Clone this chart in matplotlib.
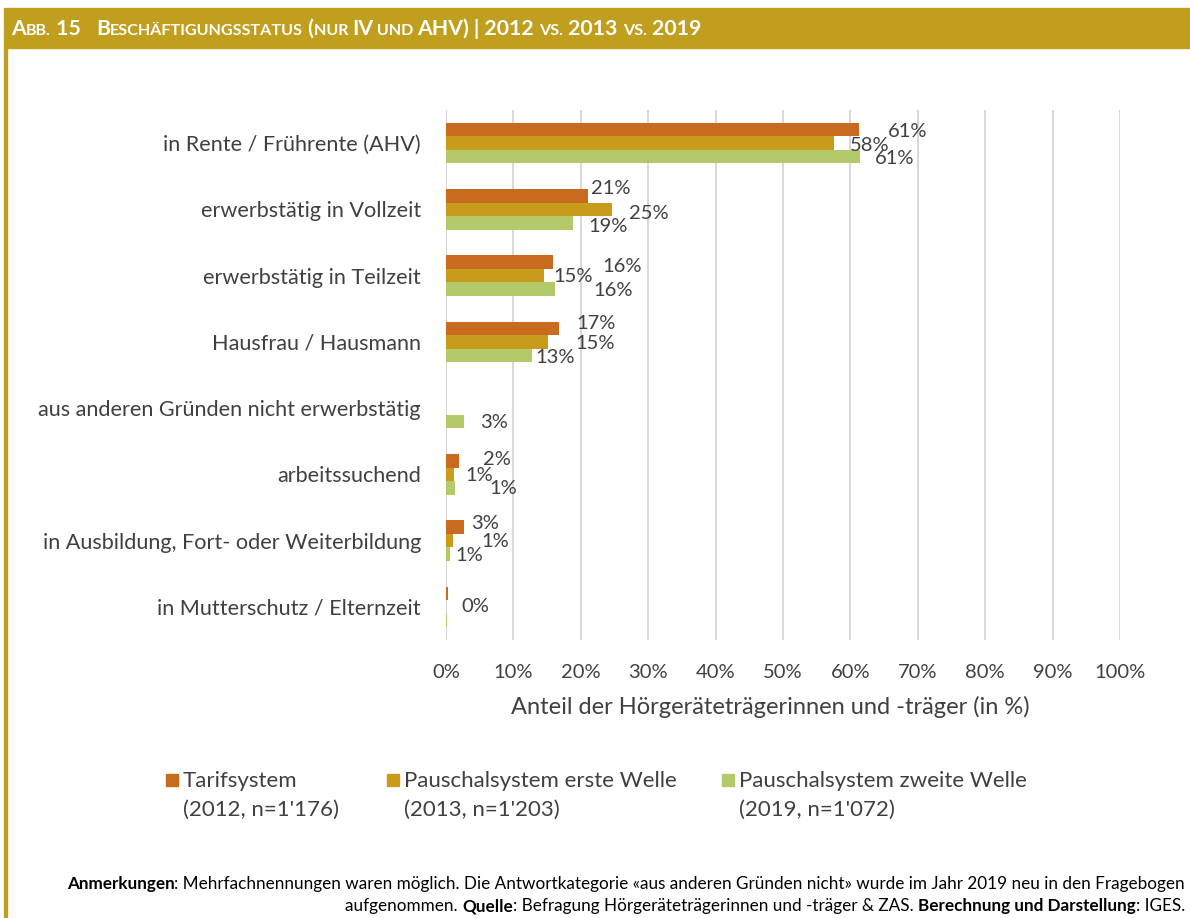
import matplotlib
matplotlib.use("Agg")
import matplotlib.pyplot as plt
import numpy as np
from matplotlib.patches import Rectangle

plt.rcParams['font.family'] = ['Lato', 'DejaVu Sans']

categories = ['in Rente / Frührente (AHV)', 'erwerbstätig in Vollzeit',
              'erwerbstätig in Teilzeit', 'Hausfrau / Hausmann',
              'aus anderen Gründen nicht erwerbstätig', 'arbeitssuchend',
              'in Ausbildung, Fort- oder Weiterbildung',
              'in Mutterschutz / Elternzeit']
tarif = [61.3, 21.1, 15.9, 16.8, np.nan, 1.9, 2.6, 0.25]
erste = [57.5, 24.7, 14.6, 15.1, np.nan, 1.2, 1.0, 0.0]
zweite = [61.4, 18.8, 16.2, 12.8, 2.7, 1.3, 0.6, 0.15]
# which values carry a label (as in the original)
show_t = [1, 1, 1, 1, 0, 1, 1, 0]
show_e = [1, 1, 1, 1, 0, 1, 1, 1]
show_z = [1, 1, 1, 1, 1, 1, 1, 0]
series_names = ['Tarifsystem\n(2012, n=1\'176)',
                'Pauschalsystem erste Welle\n(2013, n=1\'203)',
                'Pauschalsystem zweite Welle\n(2019, n=1\'072)']
xticks = np.arange(0, 101, 10)

colors = ['#C96B1F', '#C89B1A', '#B3C96A']
gold = '#C09F1E'
txt = '#404040'

# label offsets in pixels (dx from bar end, dy up) to mimic the manual placement
offs_t = [(29, -2), (3, 7), (49, -4), (17, 4.5), (0, 0), (24, 1.5), (8, 3.5), (0, 0)]
offs_e = [(16, -2), (17, -4), (9, -1), (28, -1.5), (0, 0), (11, -1), (29, -1), (15, 0)]
offs_z = [(15, -2), (16, -4), (38, -1.5), (3, -2.5), (16, -1), (35, -1), (5, -1.5), (0, 0)]

W, H = 1190, 918
fig = plt.figure(figsize=(W / 100, H / 100), dpi=100)
ax = fig.add_axes([446 / W, 1 - 640 / H, (1120 - 446) / W, (640 - 110) / H])

y = np.arange(len(categories))
h = 0.205
for vals, col, dy, offs, show in [(tarif, colors[0], -h, offs_t, show_t),
                                  (erste, colors[1], 0, offs_e, show_e),
                                  (zweite, colors[2], h, offs_z, show_z)]:
    ax.barh(y + dy, vals, height=h, color=col, zorder=3)
    for i, v in enumerate(vals):
        if show[i] and not np.isnan(v):
            ax.annotate(f'{v:.0f}%', (v, y[i] + dy), xytext=offs[i],
                        textcoords='offset pixels', ha='left', va='center',
                        fontsize=14.5, color=txt, zorder=4)

ax.set_xlim(0, 100)
ax.set_ylim(len(categories) - 0.5, -0.5)
ax.set_xticks(xticks)
ax.set_xticklabels([f'{t}%' for t in xticks])
ax.set_yticks(y)
ax.set_yticklabels(categories)
ax.tick_params(axis='both', length=0, labelcolor=txt)
ax.tick_params(axis='y', pad=18, labelsize=15.6)
ax.tick_params(axis='x', pad=17, labelsize=14.5)
ax.xaxis.grid(True, color='#D9D9D9', linewidth=1.5, zorder=0)
for s in ax.spines.values():
    s.set_visible(False)
ax.set_xlabel('Anteil der Hörgeräteträgerinnen und -träger (in %)',
              fontsize=17, color=txt, labelpad=11)
ax.xaxis.label.set_x(0.481)

# legend drawn by hand so the squares sit on the first line
leg_x = [166, 387, 722]
for lx, col, name in zip(leg_x, colors, series_names):
    fig.patches.append(Rectangle((lx / W, 1 - 786 / H), 12 / W, 12 / H,
                                 transform=fig.transFigure, color=col))
    fig.text((lx + 17) / W, 1 - 771 / H, name, fontsize=16, color=txt,
             va='top', ha='left', linespacing=1.55)

# title bar and left frame line
fig.patches.append(Rectangle((4 / W, 1 - 48 / H), 1 - 4 / W, 40 / H,
                             transform=fig.transFigure, color=gold))
fig.patches.append(Rectangle((4 / W, 0), 3 / W, 1 - 48 / H,
                             transform=fig.transFigure, color=gold))

renderer = fig.canvas.get_renderer()


def width_px(s, **kw):
    t = fig.text(0, 0, s + '|', **kw)
    r = fig.text(0, 0, '|', **kw)
    w = t.get_window_extent(renderer).width - r.get_window_extent(renderer).width
    t.remove()
    r.remove()
    return w


def runs(x, ypx, parts, ha='left'):
    widths = [width_px(s, **kw) for s, kw in parts]
    start = x if ha == 'left' else x - sum(widths)
    for (s, kw), w in zip(parts, widths):
        fig.text(start / W, 1 - ypx / H, s, va='baseline', ha='left', **kw)
        start += w


big = dict(fontsize=15.3, fontweight='bold', color='white')
small = dict(fontsize=11.6, fontweight='bold', color='white')
runs(11, 35, [('A', big), ('BB.', small), (' 15   ', big), ('B', big),
              ('ESCHÄFTIGUNGSSTATUS', small), (' (', big), ('NUR ', small),
              ('IV', big), (' UND ', small), ('AHV) | 2012 ', big),
              ('VS.', small), (' 2013 ', big), ('VS.', small), (' 2019', big)])

nb = dict(fontsize=12.3, color='black')
bb = dict(fontsize=12.3, color='black', fontweight='bold')
runs(1185, 889, [('Anmerkungen', bb),
                 (': Mehrfachnennungen waren möglich. Die Antwortkategorie «aus anderen '
                  'Gründen nicht» wurde im Jahr 2019 neu in den Fragebogen', nb)],
     ha='right')
runs(1185, 911, [('aufgenommen. ', nb), ('Quelle', bb),
                 (': Befragung Hörgeräteträgerinnen und -träger & ZAS. ', nb),
                 ('Berechnung und Darstellung', bb), (': IGES.', nb)], ha='right')

fig.savefig('out.png', dpi=100)
